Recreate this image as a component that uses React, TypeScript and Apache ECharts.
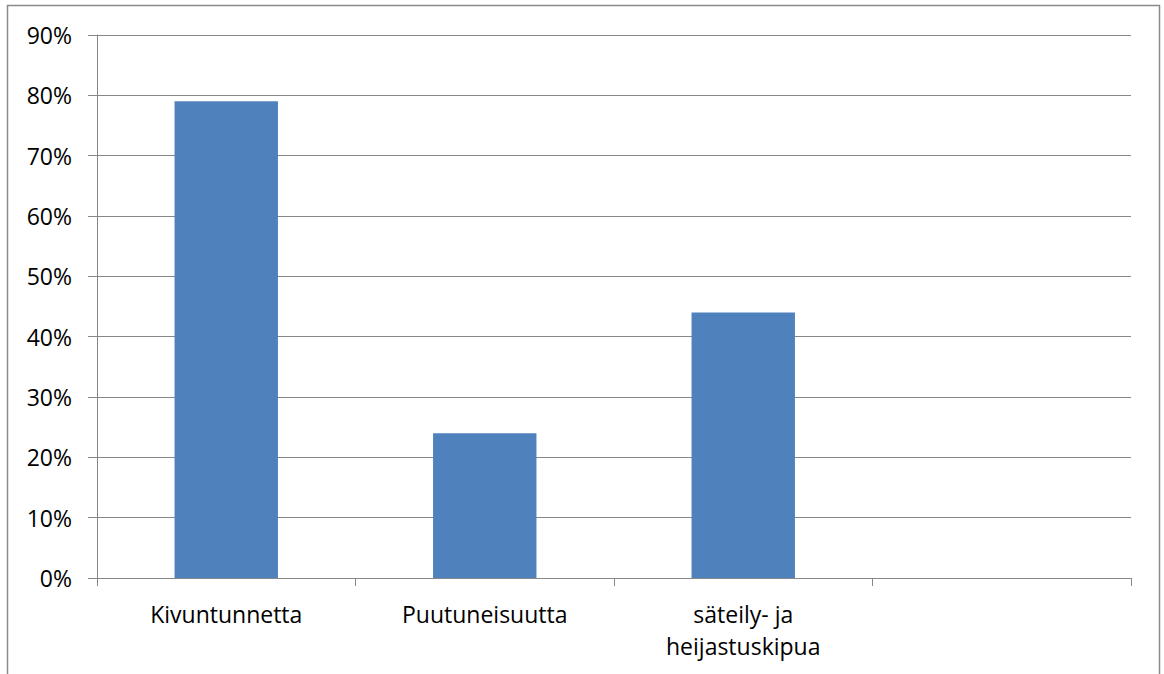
import React, { useEffect, useRef } from "react";
import * as echarts from "echarts";

const categories = ["Kivuntunnetta", "Puutuneisuutta", "säteily- ja\nheijastuskipua", ""];
const values: (number | null)[] = [79, 24, 44, null];
const yTicks = { min: 0, max: 90, interval: 10 };

const FONT = "'Open Sans', 'Noto Sans', sans-serif";
const GRAY = "#878787";

export default function App() {
  const ref = useRef<HTMLDivElement>(null);

  useEffect(() => {
    if (!ref.current) return;
    const chart = echarts.init(ref.current, undefined, { renderer: "svg" });
    chart.setOption({
      animation: false,
      backgroundColor: "#ffffff",
      textStyle: { fontFamily: FONT },
      graphic: [
        {
          type: "rect",
          shape: { x: 7.5, y: 5.5, width: 1152, height: 720 },
          style: { fill: "none", stroke: "#8a8a8a", lineWidth: 1.5 },
          silent: true,
        },
      ],
      grid: { left: 97, right: 33, top: 35, bottom: 96, containLabel: false },
      xAxis: {
        type: "category",
        data: categories,
        boundaryGap: true,
        axisLine: { show: true, lineStyle: { color: GRAY, width: 1 } },
        axisTick: { show: true, length: 8, alignWithLabel: false, lineStyle: { color: GRAY } },
        axisLabel: {
          color: "#000000",
          fontFamily: FONT,
          fontSize: 23,
          lineHeight: 32,
          margin: 20,
          interval: 0,
        },
        splitLine: { show: false },
      },
      yAxis: {
        type: "value",
        min: yTicks.min,
        max: yTicks.max,
        interval: yTicks.interval,
        axisLine: { show: true, lineStyle: { color: GRAY, width: 1 } },
        axisTick: { show: true, length: 9, lineStyle: { color: GRAY } },
        axisLabel: {
          color: "#000000",
          fontFamily: FONT,
          fontSize: 23,
          margin: 25,
          formatter: "{value}%",
        },
        splitLine: { show: true, lineStyle: { color: GRAY, width: 1 } },
      },
      series: [
        {
          type: "bar",
          data: values,
          barWidth: "40%",
          itemStyle: { color: "#4f81bd" },
        },
      ],
    });
    return () => chart.dispose();
  }, []);

  return (
    <div
      ref={ref}
      style={{ position: "fixed", left: 0, top: 0, width: 1164, height: 674 }}
    />
  );
}
